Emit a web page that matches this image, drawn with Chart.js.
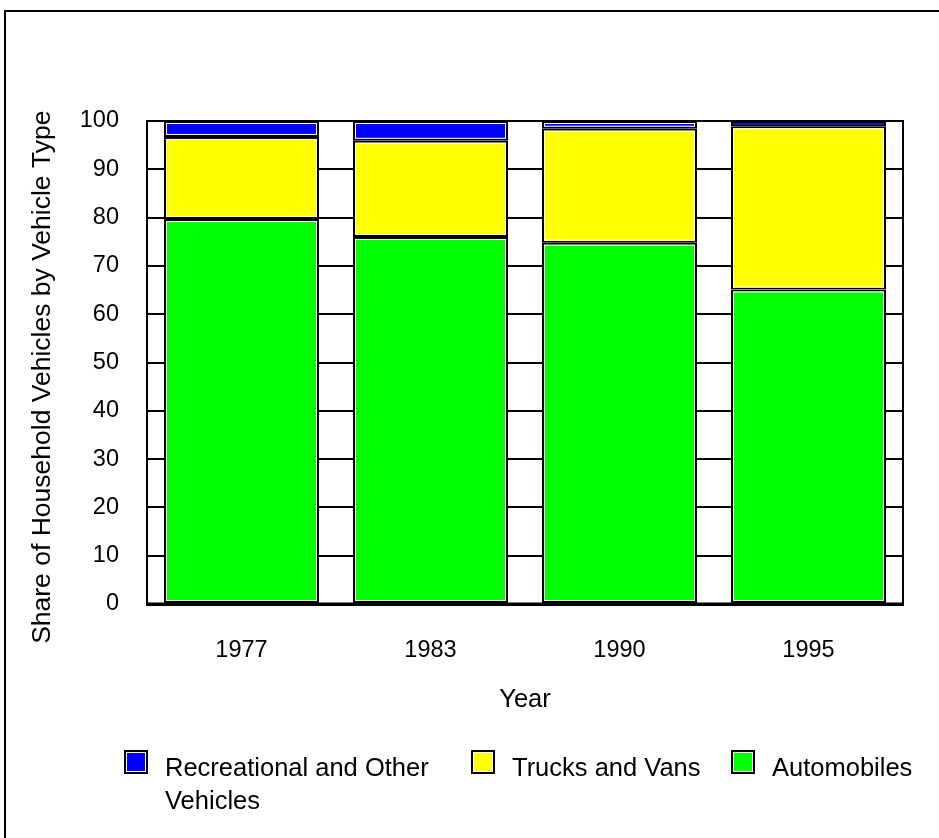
<!DOCTYPE html>
<html>
<head>
<meta charset="utf-8">
<script src="https://cdn.jsdelivr.net/npm/chart.js@4.4.1/dist/chart.umd.min.js"></script>
<style>
  html, body { margin: 0; padding: 0; background: #fff; overflow: hidden; }
  body { width: 939px; height: 838px; position: relative; font-family: "Liberation Sans", Arial, sans-serif; }
  #frame { position: absolute; left: 4px; top: 10px; width: 1000px; height: 1000px; border: 2px solid #000; box-sizing: border-box; }
  #c { position: absolute; left: 0; top: 0; }
  #legend { position: absolute; left: 124px; top: 750px; font-size: 25.5px; color: #000; }
  .item { position: absolute; top: 0; }
  .box { position: absolute; top: 0; width: 24px; height: 24px; box-sizing: border-box; border: 2px solid #000; box-shadow: inset 0 0 0 1px #fff; }
  .txt { position: absolute; top: 1px; line-height: 33px; white-space: nowrap; }
</style>
</head>
<body>
<div id="frame"></div>
<canvas id="c" width="939" height="838"></canvas>
<div id="legend"></div>
<script>
// ---- data ----
const years = ["1977", "1983", "1990", "1995"];
const automobiles = [79.7, 76.0, 74.8, 65.1];
const trucksAndVans = [17.0, 19.9, 23.6, 33.8];
const recreational = [3.3, 4.1, 1.6, 1.1];
const yTicks = [0, 10, 20, 30, 40, 50, 60, 70, 80, 90, 100];
const seriesNames = ["Automobiles", "Trucks and Vans", "Recreational and Other Vehicles"];
const legendLines = [["Recreational and Other", "Vehicles"], ["Trucks and Vans"], ["Automobiles"]];

const colors = ["#00ff00", "#ffff00", "#0000ff"];
const FONT = "'Liberation Sans', Arial, sans-serif";

const framePlugin = {
  id: 'framePlugin',
  afterDatasetsDraw(chart) {
    const ctx = chart.ctx;
    ctx.save();
    ctx.strokeStyle = '#fff';
    ctx.lineWidth = 1;
    chart.data.datasets.forEach((ds, i) => {
      const meta = chart.getDatasetMeta(i);
      meta.data.forEach(el => {
        const p = el.getProps(['x', 'y', 'base', 'width'], true);
        const l = p.x - p.width / 2, r = p.x + p.width / 2;
        const t = Math.min(p.y, p.base), b = Math.max(p.y, p.base);
        const ins = 2.5;
        if (b - t > 2 * ins + 1) ctx.strokeRect(l + ins, t + ins, r - l - 2 * ins, b - t - 2 * ins);
      });
    });
    ctx.restore();
  },
  afterDraw(chart) {
    const a = chart.chartArea, ctx = chart.ctx;
    ctx.save();
    ctx.strokeStyle = '#000';
    ctx.lineWidth = 2;
    ctx.strokeRect(a.left, a.top, a.right - a.left, a.bottom - a.top);
    ctx.lineWidth = 3;
    ctx.beginPath();
    ctx.moveTo(a.left - 1, a.bottom);
    ctx.lineTo(a.right + 1, a.bottom);
    ctx.stroke();
    ctx.restore();
  }
};

const datasetValues = [automobiles, trucksAndVans, recreational];

new Chart(document.getElementById('c'), {
  type: 'bar',
  data: {
    labels: years,
    datasets: datasetValues.map((vals, i) => ({
      label: seriesNames[i],
      data: vals,
      backgroundColor: colors[i],
      borderColor: '#000',
      borderWidth: 2,
      borderSkipped: false,
      categoryPercentage: 1.0,
      barPercentage: 0.82
    }))
  },
  options: {
    responsive: false,
    animation: false,
    devicePixelRatio: 1,
    layout: { padding: { top: 121, right: 36, bottom: 123, left: 0 } },
    plugins: { legend: { display: false }, tooltip: { enabled: false } },
    scales: {
      x: {
        stacked: true,
        grid: { display: false, drawTicks: false },
        border: { display: true, color: '#000', width: 3 },
        ticks: { color: '#000', font: { family: FONT, size: 23.5 }, padding: 32 },
        title: { display: true, text: 'Year', color: '#000', font: { family: FONT, size: 25.5 }, padding: { top: 0, bottom: 0 } },
        afterFit(scale) { scale.height = 111; }
      },
      y: {
        stacked: true,
        min: 0, max: 100,
        afterBuildTicks(scale) { scale.ticks = yTicks.map(v => ({ value: v })); },
        grid: { color: '#000', lineWidth: 2, drawTicks: false },
        border: { display: true, color: '#000', width: 2 },
        ticks: { color: '#000', font: { family: FONT, size: 23.5 }, padding: 28 },
        title: { display: true, text: 'Share of Household Vehicles by Vehicle Type    ', color: '#000', font: { family: FONT, size: 26.5 }, padding: { top: 27, bottom: 0 } },
        afterFit(scale) { scale.width = 147; }
      }
    }
  },
  plugins: [framePlugin]
});

// ---- HTML legend (order: Recreational, Trucks, Automobiles) ----
const legendOrder = [2, 1, 0];
const legendX = [0, 347, 607];
const legend = document.getElementById('legend');
legendOrder.forEach((si, k) => {
  const item = document.createElement('div');
  item.className = 'item';
  item.style.left = legendX[k] + 'px';
  const box = document.createElement('div');
  box.className = 'box';
  box.style.background = colors[si];
  const txt = document.createElement('div');
  txt.className = 'txt';
  txt.style.left = '41px';
  txt.innerHTML = legendLines[k].join('<br>');
  item.appendChild(box);
  item.appendChild(txt);
  legend.appendChild(item);
});
</script>
</body>
</html>
